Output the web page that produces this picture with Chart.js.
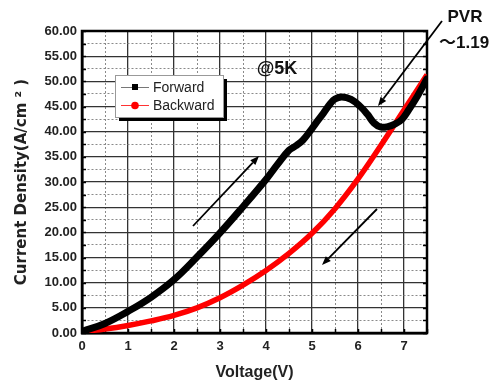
<!DOCTYPE html>
<html><head><meta charset="utf-8">
<script src="https://cdn.jsdelivr.net/npm/chart.js@4"></script>
<style>html,body{margin:0;padding:0;background:#fff;}</style>
</head><body>
<canvas id="c" width="496" height="385"></canvas>
<script>
// Data
const forwardV = [0, 0.5, 1.0, 1.5, 2.0, 2.5, 3.0, 3.5, 4.0, 4.25, 4.5, 4.65, 4.8, 4.95, 5.1, 5.25, 5.4, 5.5, 5.65, 5.85, 6.05, 6.2, 6.35, 6.5, 6.65, 6.8, 6.95, 7.1, 7.3, 7.5];
const forwardJ = [0.3, 1.9, 4.3, 7.1, 10.6, 15.1, 19.9, 25.1, 30.5, 33.5, 36.3, 37.2, 38.3, 40.0, 41.9, 43.7, 45.6, 46.5, 46.9, 46.4, 45.0, 43.5, 41.7, 40.9, 41.0, 41.5, 42.4, 44.3, 47.2, 50.5];
const backwardV = [0, 0.5, 1.0, 1.5, 2.0, 2.5, 3.0, 3.5, 4.0, 4.5, 5.0, 5.5, 6.0, 6.5, 7.0, 7.5];
const backwardJ = [0.3, 0.8, 1.5, 2.4, 3.5, 5.0, 7.0, 9.5, 12.4, 15.8, 19.8, 24.7, 30.6, 37.3, 44.3, 51.3];
const seriesNames = ['Forward', 'Backward'];
const xTickLabels = ['0', '1', '2', '3', '4', '5', '6', '7'];
const yTickLabels = ['0.00','5.00','10.00','15.00','20.00','25.00','30.00','35.00','40.00','45.00','50.00','55.00','60.00'];

const toPts = (xs, ys) => xs.map((x, i) => ({x: x, y: ys[i]}));

const annotPlugin = {
  id: 'annot',
  beforeDatasetsDraw(chart) {
    const ctx = chart.ctx, a = chart.chartArea;
    const xs = chart.scales.x, ys = chart.scales.y;
    ctx.save();
    ctx.strokeStyle = '#000';
    ctx.lineWidth = 1.5;
    for (let v = 0; v <= 60.001; v += 2.5) {
      const py = Math.round(ys.getPixelForValue(v)) + 0.5;
      ctx.beginPath(); ctx.moveTo(a.left, py); ctx.lineTo(a.left + 4, py); ctx.stroke();
      ctx.beginPath(); ctx.moveTo(a.right, py); ctx.lineTo(a.right - 4, py); ctx.stroke();
    }
    for (let v = 0; v <= 7.5001; v += 0.5) {
      const px = Math.round(xs.getPixelForValue(v)) + 0.5;
      ctx.beginPath(); ctx.moveTo(px, a.bottom); ctx.lineTo(px, a.bottom - 4); ctx.stroke();
    }
    ctx.lineWidth = 2.5;
    ctx.strokeRect(a.left, a.top, a.right - a.left, a.bottom - a.top);
    ctx.restore();
  },
  afterDraw(chart) {
    const ctx = chart.ctx;
    ctx.save();
    // legend with shadow
    const lx = 115, ly = 75, lw = 108, lh = 42;
    ctx.fillStyle = '#000';
    ctx.fillRect(lx + 4, ly + 4, lw, lh);
    ctx.fillStyle = '#fff';
    ctx.fillRect(lx, ly, lw, lh);
    ctx.strokeStyle = '#999'; ctx.lineWidth = 1;
    ctx.strokeRect(lx + 0.5, ly + 0.5, lw, lh);
    const ds = chart.data.datasets;
    const rows = [ly + 12, ly + 30];
    ds.forEach((d, i) => {
      const y = rows[i];
      ctx.strokeStyle = i === 0 ? '#777' : '#f33';
      ctx.lineWidth = 1;
      ctx.beginPath(); ctx.moveTo(lx + 6, y + 0.5); ctx.lineTo(lx + 34, y + 0.5); ctx.stroke();
      ctx.fillStyle = d.borderColor;
      if (i === 0) { ctx.fillRect(lx + 17, y - 3, 6, 6); }
      else { ctx.beginPath(); ctx.arc(lx + 20, y + 0.5, 3.8, 0, Math.PI * 2); ctx.fill(); }
      ctx.fillStyle = '#222';
      ctx.font = '14px "Liberation Sans", Arial, sans-serif';
      ctx.textBaseline = 'middle'; ctx.textAlign = 'left';
      ctx.fillText(d.label, lx + 38, y + 1);
    });
    // texts
    ctx.fillStyle = '#111';
    ctx.font = 'bold 18px "Liberation Sans", Arial, sans-serif';
    ctx.textAlign = 'center'; ctx.textBaseline = 'middle';
    ctx.fillText('@5K', 277, 69);
    ctx.font = 'bold 17px "Liberation Sans", Arial, sans-serif';
    ctx.fillText('PVR', 465, 17);
    ctx.textAlign = 'left';
    ctx.font = 'bold 17px "Liberation Sans", "Noto Sans CJK JP", sans-serif';
    ctx.fillText('～1.19', 439, 43);
    // arrows
    const arrow = (x1, y1, x2, y2) => {
      const ang = Math.atan2(y2 - y1, x2 - x1);
      const hl = 9, hw = 3.5;
      const bx = x2 - hl * Math.cos(ang), by = y2 - hl * Math.sin(ang);
      ctx.strokeStyle = '#000'; ctx.lineWidth = 1.8;
      ctx.beginPath(); ctx.moveTo(x1, y1); ctx.lineTo(bx, by); ctx.stroke();
      ctx.fillStyle = '#000';
      ctx.beginPath();
      ctx.moveTo(x2, y2);
      ctx.lineTo(bx + hw * Math.sin(ang), by - hw * Math.cos(ang));
      ctx.lineTo(bx - hw * Math.sin(ang), by + hw * Math.cos(ang));
      ctx.closePath(); ctx.fill();
    };
    arrow(193, 226, 259, 156);
    arrow(377, 209, 322, 265);
    arrow(442, 21, 378, 106);
    ctx.restore();
  }
};

new Chart(document.getElementById('c'), {
  type: 'line',
  data: {
    datasets: [
      { label: seriesNames[0], data: toPts(forwardV, forwardJ), borderColor: '#000', backgroundColor: '#000',
        borderWidth: 7, pointRadius: 0, tension: 0.4, borderJoinStyle: 'round', borderCapStyle: 'round' },
      { label: seriesNames[1], data: toPts(backwardV, backwardJ), borderColor: '#ff0000', backgroundColor: '#ff0000',
        borderWidth: 5.5, pointRadius: 0, tension: 0.4, borderJoinStyle: 'round' }
    ]
  },
  options: {
    responsive: false, animation: false, devicePixelRatio: 1,
    layout: { padding: { left: 0, right: 69, top: 31, bottom: 0 } },
    plugins: { legend: { display: false }, tooltip: { enabled: false } },
    scales: {
      x: {
        type: 'linear', min: 0, max: 7.5,
        afterFit: s => { s.height = 52; },
        ticks: { stepSize: 0.5, autoSkip: false, maxRotation: 0, padding: 6, color: '#222',
          font: { family: '"Liberation Sans", Arial, sans-serif', size: 13, weight: 'bold' },
          callback: v => Number.isInteger(v) ? xTickLabels[v] : '' },
        grid: { drawTicks: false,
          color: c => (c.tick && Number.isInteger(c.tick.value)) ? '#333' : '#8a8a8a',
          lineWidth: c => (c.tick && Number.isInteger(c.tick.value)) ? 1.3 : 1 },
        border: { display: true, color: '#000', width: 2.5,
          dash: c => (c.tick && Number.isInteger(c.tick.value)) ? [] : [2, 2] },
        title: { display: true, text: 'Voltage(V)', color: '#222', padding: { top: 0, bottom: 3 },
          font: { family: '"Liberation Sans", Arial, sans-serif', size: 16, weight: 'bold' } }
      },
      y: {
        min: 0, max: 60,
        afterFit: s => { s.width = 82; },
        ticks: { stepSize: 2.5, autoSkip: false, padding: 5, color: '#222',
          font: { family: '"Liberation Sans", Arial, sans-serif', size: 13, weight: 'bold' },
          callback: v => (v % 5 === 0) ? yTickLabels[v / 5] : '' },
        grid: { drawTicks: false,
          color: c => (c.tick && c.tick.value % 5 === 0) ? '#333' : '#8a8a8a',
          lineWidth: c => (c.tick && c.tick.value % 5 === 0) ? 1.3 : 1 },
        border: { display: true, color: '#000', width: 2.5,
          dash: c => (c.tick && c.tick.value % 5 === 0) ? [] : [2, 2] },
        title: { display: true, text: 'Current Density(A/cm ² )', color: '#222', padding: { top: 13, bottom: 0 },
          font: { family: '"DejaVu Sans", sans-serif', size: 15, weight: 'bold' } }
      }
    }
  },
  plugins: [annotPlugin]
});
</script>
</body></html>
